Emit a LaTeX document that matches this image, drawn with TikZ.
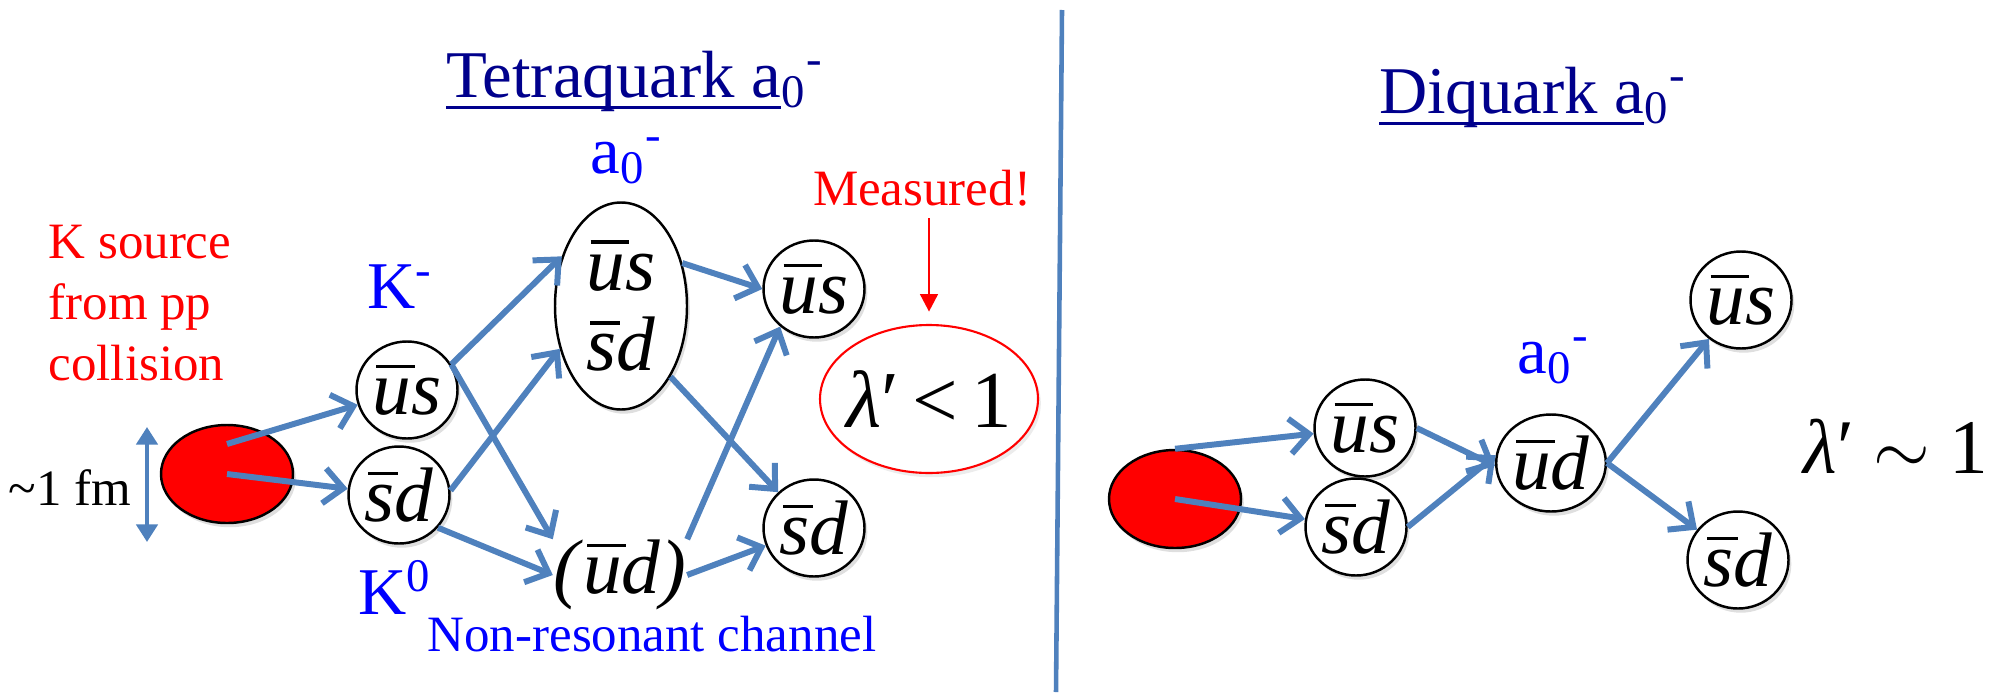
\documentclass[tikz,border=0pt]{standalone}
\usepackage{fontspec}
\setmainfont{Liberation Serif}
\usetikzlibrary{arrows.meta,shapes.geometric,shadows}
\definecolor{steel}{RGB}{79,129,189}
\definecolor{navy}{RGB}{0,0,140}
\newsavebox{\ulbox}
\newcommand{\ulin}[1]{\sbox\ulbox{#1}\rlap{\rule[-3.5pt]{\wd\ulbox}{0.9pt}}\usebox\ulbox}
\newcommand{\qk}[2]{\sbox\ulbox{\itshape #1}\rlap{\hspace{0.05em}\rule[0.6em]{\wd\ulbox}{0.045em}}\usebox\ulbox\textit{#2}}

\begin{document}
\begin{tikzpicture}[>=Stealth,
  flow/.style={draw=steel, line width=1.7pt, -{Straight Barb[length=5.5pt,width=10pt]}},
  qk/.style={ellipse, draw, line width=0.7pt, fill=white, inner sep=0pt,
    minimum width=1.01cm, minimum height=0.97cm, font=\fontsize{22}{26}\selectfont,
    drop shadow={opacity=0.25, shadow xshift=0.8pt, shadow yshift=-1.2pt}},
  src/.style={ellipse, draw, line width=0.7pt, fill=red,
    minimum width=1.32cm, minimum height=0.98cm,
    drop shadow={opacity=0.25, shadow xshift=0.8pt, shadow yshift=-1.2pt}},
  ttl/.style={navy, font=\fontsize{19}{23}\selectfont, anchor=base},
  lbl/.style={blue, font=\fontsize{19}{23}\selectfont, anchor=base},
  note/.style={font=\fontsize{14.5}{17.4}\selectfont, anchor=base}]
  \useasboundingbox (0,0) rectangle (19.98,6.92);

  %% Divider between the two pictures
  \coordinate (divT) at (10.62,6.82);
  \coordinate (divB) at (10.56,0);
  \draw[steel, line width=1.3pt] (divT) -- (divB);

  %% Titles
  \node[ttl] (ttlL) at (6.35,5.95) {\ulin{Tetraquark a}\textsubscript{0}\textsuperscript{-}};
  \node[ttl] (ttlR) at (15.33,5.79) {\ulin{Diquark a}\textsubscript{0}\textsuperscript{-}};

  %% Left: tetraquark a0-
  \node[note, red, anchor=north west, align=left, inner sep=0pt] (ksrc) at (0.48,4.68)
    {K source\\from pp\\collision};
  \node[src] (srcL) at (2.27,2.18) {};
  \node[note] (lblFm) at (0.70,1.87) {\textasciitilde1 fm};
  \coordinate (fmT) at (1.47,2.65);
  \coordinate (fmB) at (1.47,1.50);
  \draw[steel, line width=1.2pt, {Triangle[length=5pt,width=6pt]}-{Triangle[length=5pt,width=6pt]}]
    (fmT) -- (fmB);

  \node[qk] (usK) at (4.07,3.02) {\qk{u}{s}};
  \node[qk] (sdK) at (3.99,1.97) {\qk{s}{d}};
  \node[lbl] (lblKm) at (4.00,3.84) {K\textsuperscript{-}};
  \node[lbl] (lblK0) at (3.95,0.78) {K\textsuperscript{0}};

  \node[qk, align=center, minimum width=1.32cm, minimum height=2.07cm,
    font=\fontsize{22}{23}\selectfont] (a0T) at (6.21,3.86) {\qk{u}{s}\\\qk{s}{d}};
  \node[lbl] (lblA) at (6.27,5.19) {a\textsubscript{0}\textsuperscript{-}};
  \node[inner sep=0pt, font=\fontsize{22}{26}\selectfont] (udN) at (6.20,1.17)
    {\textit{(}\qk{u}{d}\textit{)}};
  \node[note, blue] (lblNR) at (6.52,0.41) {Non-resonant channel};

  \node[qk] (usR1) at (8.14,4.03) {\qk{u}{s}};
  \node[qk] (sdR1) at (8.14,1.64) {\qk{s}{d}};

  \node[ellipse, draw=red, line width=0.6pt, inner xsep=-4pt, inner ysep=0pt,
    minimum width=2.18cm, minimum height=1.48cm, font=\fontsize{23}{27}\selectfont,
    drop shadow={opacity=0.15, shadow xshift=0.8pt, shadow yshift=-1.2pt}, fill=white]
    (lam) at (9.29,2.93) {\textit{λ}′\,<\,1};
  \node[note, red] (lblMeas) at (9.22,4.87) {Measured!};
  \draw[red, line width=0.8pt, -{Triangle[length=5pt,width=5pt]}, shorten >=3.5pt]
    (lblMeas.south -| lam.north) -- (lam.north);

  \draw[flow] ([yshift=0.3cm]srcL.center) -- (usK);
  \draw[flow] (srcL.center) -- (sdK);
  \draw[flow] (usK.30) -- (a0T.140);
  \draw[flow] (usK.30) -- (udN.north west);
  \draw[flow] (sdK.5) -- (a0T.215);
  \draw[flow] (sdK.-40) -- (udN.west);
  \draw[flow] (a0T.35) -- (usR1.west);
  \draw[flow] (a0T.-55) -- (sdR1.135);
  \draw[flow] (udN.north east) -- (usR1.228);
  \draw[flow] (udN.east) -- (sdR1.200);

  %% Right: diquark a0-
  \node[src] (srcR) at (11.75,1.93) {};
  \node[qk] (us2) at (13.65,2.64) {\qk{u}{s}};
  \node[qk] (sd2) at (13.56,1.65) {\qk{s}{d}};
  \node[qk] (ud2) at (15.51,2.29) {\qk{u}{d}};
  \node[lbl] (lblA2) at (15.54,3.19) {a\textsubscript{0}\textsuperscript{-}};
  \node[qk] (usT) at (17.41,3.92) {\qk{u}{s}};
  \node[qk] (sdB) at (17.38,1.32) {\qk{s}{d}};
  \node[anchor=base, font=\fontsize{22}{26}\selectfont] (lam2) at (18.96,2.19)
    {\textit{λ}′ $\sim$ 1};

  \draw[flow] (srcR.north) -- (us2);
  \draw[flow] (srcR.center) -- (sd2);
  \draw[flow] (us2.east) -- (ud2.183);
  \draw[flow] (sd2.east) -- (ud2.172);
  \draw[flow] (ud2.east) -- (usT);
  \draw[flow] (ud2.east) -- (sdB);
\end{tikzpicture}
\end{document}
